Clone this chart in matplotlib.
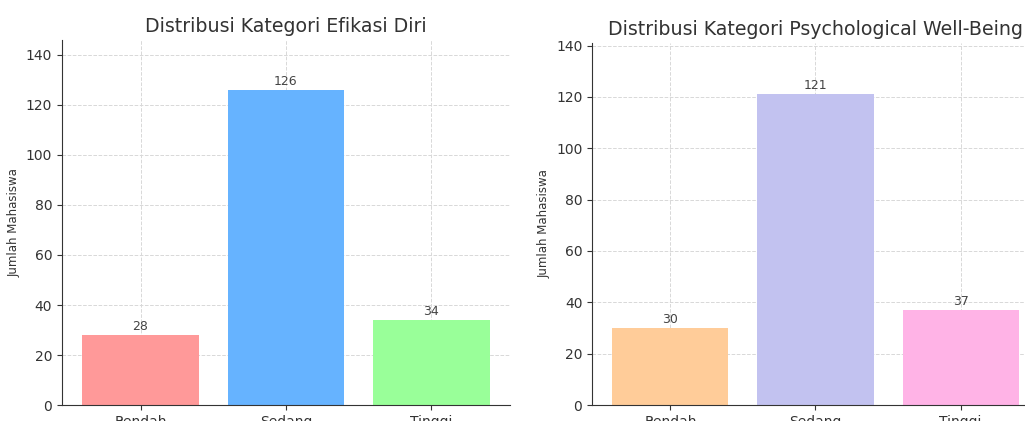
import matplotlib.pyplot as plt

kategori = ["Rendah", "Sedang", "Tinggi"]
efikasi = [28, 126, 34]
pwb = [30, 121, 37]

warna_efikasi = ["#ff9999", "#66b3ff", "#99ff99"]
warna_pwb = ["#ffcc99", "#c2c2f0", "#ffb3e6"]

plt.rcParams["font.family"] = "DejaVu Sans"

fig = plt.figure(figsize=(10.25, 4.21), dpi=100)


def tracer(ax, valeurs, couleurs, titre):
    barres = ax.bar(kategori, valeurs, color=couleurs, width=0.8, zorder=2)
    for b, v in zip(barres, valeurs):
        ax.text(b.get_x() + b.get_width() / 2, v + 0.8, str(v),
                ha="center", va="bottom", fontsize=9, color="#444444")
    ax.set_ylim(0, max(valeurs) + 20)
    ax.set_yticks(range(0, 141, 20))
    ax.set_title(titre, fontsize=13.7, color="#333333", pad=6)
    ax.set_ylabel("Jumlah Mahasiswa", fontsize=8.5, color="#333333")
    ax.grid(True, linestyle="--", color="#d8d8d8", linewidth=0.7, zorder=0)
    ax.spines["top"].set_visible(False)
    ax.spines["right"].set_visible(False)
    ax.spines["left"].set_color("#333333")
    ax.spines["bottom"].set_color("#333333")
    ax.tick_params(colors="#333333", labelsize=10)


ax1 = fig.add_axes([0.0605, 0.038, 0.437, 0.867])
tracer(ax1, efikasi, warna_efikasi, "Distribusi Kategori Efikasi Diri")

ax2 = fig.add_axes([0.5776, 0.038, 0.436, 0.86])
tracer(ax2, pwb, warna_pwb, "Distribusi Kategori Psychological Well-Being")

fig.savefig("out.png", dpi=100)
